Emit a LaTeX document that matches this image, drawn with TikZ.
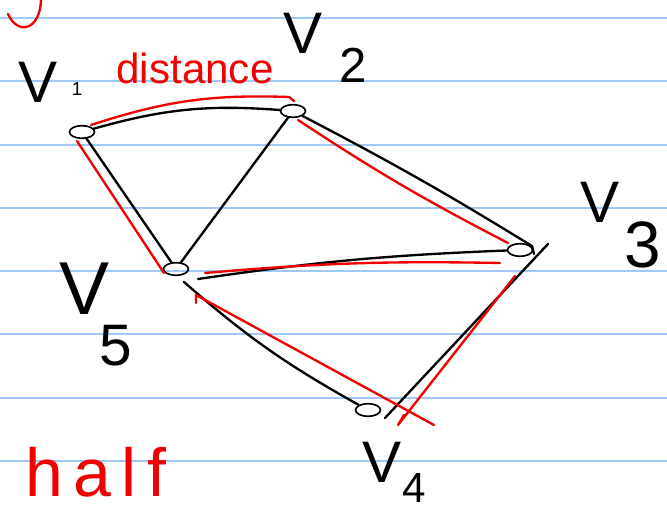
\documentclass[tikz,border=0pt]{standalone}
\usepackage{fontspec}
\setmainfont{Liberation Sans}
\usetikzlibrary{shapes.geometric,calc}
\definecolor{ruleblue}{RGB}{160,200,245}
\definecolor{penred}{RGB}{240,0,0}

\begin{document}
\begin{tikzpicture}[x=0.03cm, y=-0.03cm,
    vertex/.style={ellipse, draw=black, line width=1.4pt,
        minimum width=0.75cm, minimum height=0.38cm, inner sep=0pt},
    edge/.style={black, line width=2pt, line cap=round},
    trace/.style={penred, line width=2pt, line cap=round, line join=round},
    lbl/.style={inner sep=0pt, font=\fontsize{50}{50}\selectfont},
    sub/.style={inner sep=0pt, font=\fontsize{42}{42}\selectfont},
    note/.style={inner sep=0pt, text=penred}
]
    \useasboundingbox (0,0) rectangle (667,515);

    % ruled paper
    \foreach \y in {18,81,145,208,271,334,398,461}
        \draw[ruleblue, line width=1.1pt] (0,\y) -- (667,\y);

    % vertices
    \node[vertex] (v1) at (82,132) {};
    \node[vertex] (v2) at (293,111) {};
    \node[vertex] (v3) at (520,250) {};
    \node[vertex] (v4) at (368,410) {};
    \node[vertex] (v5) at (176,269) {};

    % graph edges
    \draw[edge] (v1) to[bend left=10] (v2);
    \draw[edge] (v1) -- (v5);
    \draw[edge] (v2) -- (v5);
    \draw[edge] (v2) to[bend left=2] ($(v3)+(12,-4)$) -- ++(2,8);
    \draw[edge] ($(v5)+(22,10)$) to[bend left=3] (v3);
    \draw[edge] ($(v5)+(8,13)$) to[bend right=6] (v4);
    \coordinate (t34) at ($(v3)+(28,-6)$);
    \coordinate (b34) at ($(v4)+(17,8)$);
    \draw[edge] (t34) -- (b34);

    % red traces
    \draw[trace] ($(v1)+(9,-7)$) to[bend left=10] ($(v2)+(-4,-14)$) -- ++(5,4);
    \draw[trace] ($(v1)+(-5,9)$) -- ($(v5)+(-12,4)$);
    \draw[trace] ($(v2)+(5,9)$) to[bend right=3] ($(v3)+(-12,-7)$);
    \draw[trace] ($(v5)+(29,4)$) to[bend left=3] ($(v3)+(-20,13)$);
    \draw[trace] ($(v5)+(20,34)$) -- ($(v5)+(20,26)$) -- ($(v4)+(66,15)$);
    \draw[trace] ($(v3)+(-5,26)$) -- ($(v4)+(30,15)$) -- ++(6,-10);

    % labels
    \node[lbl] (l1) at (38,82) {V};
    \node[inner sep=0pt, font=\fontsize{16}{16}\selectfont] (s1) at (77,89) {1};
    \node[lbl] (l2) at (303,33) {V};
    \node[sub] (s2) at (353,65) {2};
    \node[lbl] (l3) at (600,202) {V};
    \node[sub, font=\fontsize{56}{56}\selectfont] (s3) at (643,245) {3};
    \node[lbl, font=\fontsize{64}{64}\selectfont] (l5) at (85,289) {V};
    \node[sub, font=\fontsize{50}{50}\selectfont] (s5) at (116,346) {5};
    \node[lbl] (l4) at (382,462) {V};
    \node[sub, font=\fontsize{36}{36}\selectfont] (s4) at (414,488) {4};

    % red notes
    \node[note, font=\fontsize{58}{58}\selectfont\addfontfeatures{LetterSpace=15}] (half) at (96,472) {half};
    \node[note, font=\fontsize{36}{36}\selectfont] (dist) at (195,68) {distance};
    \draw[trace] (41,0) .. controls (40,30) and (18,36) .. (8,14);
\end{tikzpicture}
\end{document}
